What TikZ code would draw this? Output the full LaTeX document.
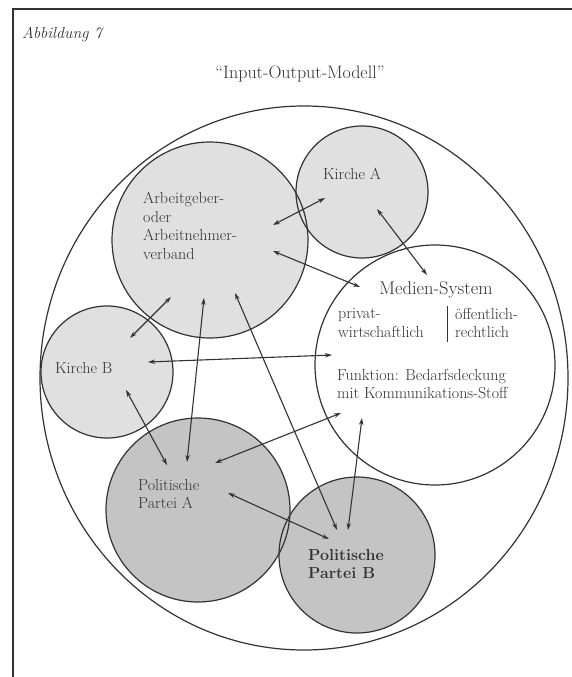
\documentclass[tikz,border=0pt]{standalone}
\usetikzlibrary{arrows.meta,shapes.geometric}
\definecolor{ink}{HTML}{333333}
\definecolor{lightfill}{HTML}{E0E0E0}
\definecolor{darkfill}{HTML}{C4C4C4}
\begin{document}
\begin{tikzpicture}[x=1pt,y=-1pt,
  ring/.style={draw=ink, line width=1.2pt},
  blob/.style={circle, inner sep=0pt},
  lbl/.style={anchor=north west, inner sep=0pt, align=left, text=ink, font=\fontsize{16}{18.5}\selectfont},
  link/.style={draw=ink, line width=1.1pt, {Stealth[length=7pt,width=4.5pt]}-{Stealth[length=7pt,width=4.5pt]}}]
\useasboundingbox (0,0) rectangle (572,677);
\fill[white] (0,0) rectangle (572,677);
\draw[ink, line width=1.3pt] (572,9) -- (13,9) -- (13,677);

\node[anchor=base west, inner sep=0pt, text=ink, font=\fontsize{16}{19}\selectfont\itshape] (fig) at (22,38) {Abbildung 7};
\node[anchor=base, inner sep=0pt, text=ink, font=\fontsize{18}{21}\selectfont] (title) at (300,78) {``Input-Output-Modell''};

% outer system
\node[ellipse, inner sep=0pt, minimum width=528pt, minimum height=544pt, ring, fill=white] (world) at (304,378) {};

% fills
\node[blob, minimum size=196pt, fill=lightfill] (arb) at (210,240) {};
\node[blob, minimum size=132pt, fill=lightfill] (kia) at (362,192) {};
\node[blob, minimum size=132pt, fill=lightfill] (kib) at (107,372) {};
\node[blob, minimum size=240pt, fill=white] (med) at (435,365) {};
\node[blob, minimum size=184pt, fill=darkfill] (pa) at (198,510) {};
\node[blob, minimum size=156pt, fill=darkfill] (pb) at (357,555) {};

% outlines
\draw[ring] (arb.center) circle (98);
\draw[ring] (kia.center) circle (66);
\draw[ring] (kib.center) circle (66);
\draw[ring] (med.center) circle (120);
\draw[ring] (pa.center) circle (92);
\draw[ring] (pb.center) circle (78);

% texts
\node[lbl] (arbt) at (143,192) {Arbeitgeber-\\oder\\Arbeitnehmer-\\verband};
\node[lbl] (kiat) at (323,168) {Kirche A};
\node[lbl] (kibt) at (55,362) {Kirche B};
\node[anchor=base, inner sep=0pt, text=ink, font=\fontsize{18.5}{22}\selectfont] (medt) at (436,294) {Medien-System};
\node[lbl] (privt) at (338,308) {privat-\\wirtschaftlich};
\node[lbl] (oefft) at (455,308) {öffentlich-\\rechtlich};
\coordinate (bartop) at (447,306);
\coordinate (barbot) at (447,342);
\draw[ink, line width=0.9pt] (bartop) -- (barbot);
\node[lbl] (funkt) at (337,369) {Funktion: Bedarfsdeckung\\mit Kommunikations-Stoff};
\node[lbl] (pat) at (138,479) {Politische\\Partei A};
\node[lbl, font=\fontsize{16}{18.5}\selectfont\bfseries] (pbt) at (308,549) {Politische\\Partei B};

% arrow end points
\coordinate (e1a) at (273,225); \coordinate (e1b) at (325,198);
\coordinate (e2a) at (377,209); \coordinate (e2b) at (427,275);
\coordinate (e3a) at (273,251); \coordinate (e3b) at (360,287);
\coordinate (e4a) at (171,297); \coordinate (e4b) at (130,338);
\coordinate (e5a) at (204,298); \coordinate (e5b) at (187,462);
\coordinate (e6a) at (235,293); \coordinate (e6b) at (337,530);
\coordinate (e7a) at (148,362); \coordinate (e7b) at (332,355);
\coordinate (e8a) at (126,390); \coordinate (e8b) at (167,465);
\coordinate (e9a) at (215,463); \coordinate (e9b) at (341,413);
\coordinate (e10a) at (362,418); \coordinate (e10b) at (348,530);
\coordinate (e11a) at (228,493); \coordinate (e11b) at (329,539);

\draw[link] (e1a) -- (e1b);
\draw[link] (e2a) -- (e2b);
\draw[link] (e3a) -- (e3b);
\draw[link] (e4a) -- (e4b);
\draw[link] (e5a) -- (e5b);
\draw[link] (e6a) -- (e6b);
\draw[link] (e7a) -- (e7b);
\draw[link] (e8a) -- (e8b);
\draw[link] (e9a) -- (e9b);
\draw[link] (e10a) -- (e10b);
\draw[link] (e11a) -- (e11b);
\end{tikzpicture}
\end{document}
